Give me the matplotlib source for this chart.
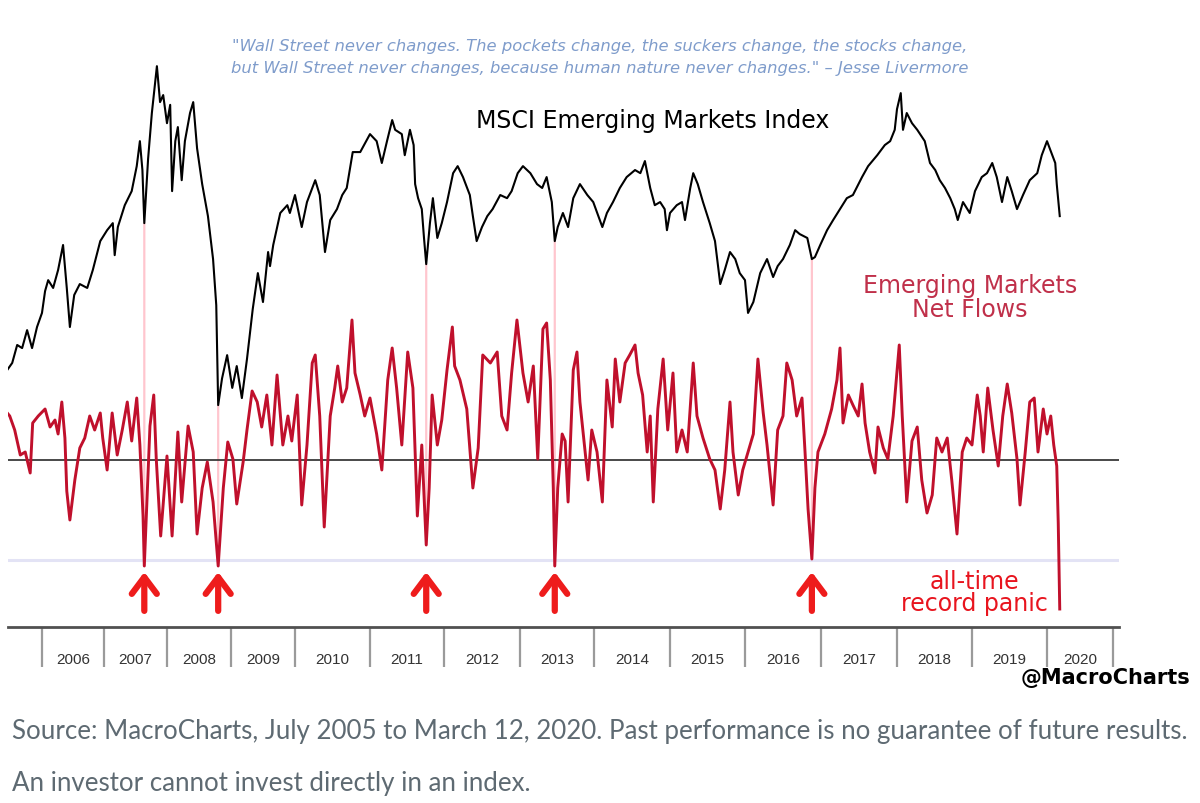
import numpy as np
import matplotlib
matplotlib.use("Agg")
import matplotlib.pyplot as plt
from matplotlib.patches import ConnectionPatch

# ---------------- data ----------------
index_dates = [
    2005.44, 2005.52, 2005.60, 2005.68, 2005.76, 2005.84, 2005.92, 2006.00, 2006.05, 2006.10,
    2006.18, 2006.26, 2006.34, 2006.40, 2006.45, 2006.52, 2006.61, 2006.73, 2006.82, 2006.94,
    2007.05, 2007.14, 2007.17, 2007.22, 2007.33, 2007.44, 2007.52, 2007.57, 2007.61, 2007.64,
    2007.70, 2007.76, 2007.81, 2007.84, 2007.89, 2007.94, 2008.00, 2008.05, 2008.08, 2008.13,
    2008.17, 2008.23, 2008.28, 2008.36, 2008.41, 2008.47, 2008.55, 2008.64, 2008.72, 2008.77,
    2008.80, 2008.86, 2008.94, 2009.02, 2009.09, 2009.17, 2009.25, 2009.34, 2009.42, 2009.50,
    2009.58, 2009.61, 2009.66, 2009.77, 2009.88, 2009.92, 2010.00, 2010.09, 2010.16, 2010.27,
    2010.33, 2010.40, 2010.47, 2010.56, 2010.63, 2010.69, 2010.77, 2010.87, 2011.00, 2011.09,
    2011.16, 2011.23, 2011.30, 2011.34, 2011.43, 2011.47, 2011.54, 2011.59, 2011.61, 2011.65,
    2011.70, 2011.73, 2011.76, 2011.81, 2011.85, 2011.91, 2011.97, 2012.04, 2012.12, 2012.18,
    2012.25, 2012.34, 2012.38, 2012.43, 2012.50, 2012.57, 2012.64, 2012.74, 2012.83, 2012.89,
    2012.97, 2013.04, 2013.14, 2013.23, 2013.30, 2013.36, 2013.43, 2013.47, 2013.51, 2013.58,
    2013.65, 2013.72, 2013.81, 2013.91, 2013.99, 2014.11, 2014.17, 2014.25, 2014.34, 2014.43,
    2014.54, 2014.61, 2014.67, 2014.74, 2014.80, 2014.87, 2014.93, 2014.96, 2015.00, 2015.09,
    2015.16, 2015.20, 2015.27, 2015.31, 2015.37, 2015.44, 2015.53, 2015.60, 2015.64, 2015.67,
    2015.73, 2015.80, 2015.87, 2015.93, 2016.00, 2016.04, 2016.11, 2016.20, 2016.29, 2016.37,
    2016.43, 2016.50, 2016.59, 2016.66, 2016.72, 2016.82, 2016.88, 2016.92, 2016.99, 2017.08,
    2017.16, 2017.25, 2017.34, 2017.42, 2017.54, 2017.62, 2017.74, 2017.84, 2017.91, 2017.97,
    2018.00, 2018.05, 2018.08, 2018.13, 2018.20, 2018.27, 2018.37, 2018.44, 2018.51, 2018.57,
    2018.64, 2018.71, 2018.77, 2018.81, 2018.88, 2018.97, 2019.04, 2019.13, 2019.20, 2019.27,
    2019.33, 2019.40, 2019.47, 2019.53, 2019.60, 2019.68, 2019.77, 2019.87, 2019.93, 2020.00,
    2020.07, 2020.11, 2020.13, 2020.17,
]
index_values = [
    562, 580, 626, 618, 664, 618, 672, 708, 764, 792,
    772, 818, 882, 772, 672, 754, 782, 772, 818, 892,
    920, 938, 856, 928, 984, 1020, 1084, 1148, 1074, 938,
    1102, 1220, 1294, 1340, 1248, 1266, 1194, 1241, 1020, 1148,
    1184, 1048, 1148, 1220, 1248, 1130, 1038, 956, 846, 728,
    472, 540, 600, 516, 572, 490, 590, 718, 810, 736,
    864, 828, 882, 964, 984, 964, 1010, 928, 992, 1048,
    1010, 864, 946, 974, 1010, 1028, 1120, 1120, 1166, 1148,
    1092, 1148, 1202, 1177, 1166, 1112, 1177, 1138, 1038, 1002,
    974, 900, 833, 938, 1002, 900, 938, 992, 1066, 1084,
    1056, 1010, 956, 892, 928, 956, 974, 1010, 1002, 1020,
    1066, 1084, 1066, 1038, 1028, 1056, 992, 892, 928, 964,
    928, 1002, 1038, 1010, 992, 928, 964, 992, 1028, 1056,
    1074, 1066, 1097, 1028, 984, 992, 974, 920, 964, 984,
    992, 946, 1028, 1066, 1038, 992, 938, 892, 828, 782,
    818, 864, 846, 810, 792, 708, 736, 810, 846, 800,
    828, 846, 882, 920, 910, 900, 846, 851, 882, 920,
    946, 974, 1002, 1010, 1056, 1084, 1112, 1138, 1148, 1177,
    1230, 1271, 1177, 1220, 1194, 1177, 1148, 1092, 1074, 1048,
    1028, 1002, 974, 946, 992, 964, 1020, 1056, 1066, 1092,
    1056, 992, 1056, 1020, 974, 1010, 1048, 1066, 1112, 1148,
    1112, 1092, 1038, 956,
]

flow_dates = [
    2005.44, 2005.48, 2005.56, 2005.65, 2005.73, 2005.81, 2005.85, 2005.94, 2006.05, 2006.13,
    2006.21, 2006.26, 2006.32, 2006.37, 2006.40, 2006.45, 2006.53, 2006.61, 2006.69, 2006.77,
    2006.85, 2006.94, 2006.98, 2007.05, 2007.13, 2007.21, 2007.29, 2007.37, 2007.44, 2007.52,
    2007.57, 2007.62, 2007.64, 2007.73, 2007.79, 2007.83, 2007.90, 2008.00, 2008.08, 2008.17,
    2008.23, 2008.33, 2008.41, 2008.47, 2008.55, 2008.63, 2008.72, 2008.80, 2008.88, 2008.95,
    2009.03, 2009.09, 2009.19, 2009.25, 2009.33, 2009.41, 2009.48, 2009.56, 2009.64, 2009.72,
    2009.81, 2009.89, 2009.95, 2010.03, 2010.09, 2010.16, 2010.23, 2010.27, 2010.33, 2010.39,
    2010.47, 2010.53, 2010.57, 2010.63, 2010.69, 2010.76, 2010.80, 2010.87, 2010.93, 2011.00,
    2011.09, 2011.16, 2011.24, 2011.30, 2011.36, 2011.43, 2011.51, 2011.58, 2011.64, 2011.70,
    2011.76, 2011.80, 2011.84, 2011.91, 2011.97, 2012.04, 2012.11, 2012.14, 2012.21, 2012.30,
    2012.38, 2012.45, 2012.51, 2012.61, 2012.70, 2012.76, 2012.83, 2012.89, 2012.96, 2013.04,
    2013.11, 2013.18, 2013.24, 2013.31, 2013.36, 2013.41, 2013.45, 2013.47, 2013.51, 2013.57,
    2013.61, 2013.65, 2013.72, 2013.77, 2013.81, 2013.88, 2013.92, 2013.97, 2014.04, 2014.11,
    2014.17, 2014.24, 2014.28, 2014.34, 2014.41, 2014.47, 2014.54, 2014.58, 2014.64, 2014.70,
    2014.74, 2014.78, 2014.84, 2014.91, 2014.97, 2015.04, 2015.09, 2015.16, 2015.23, 2015.31,
    2015.36, 2015.44, 2015.53, 2015.60, 2015.67, 2015.73, 2015.80, 2015.84, 2015.91, 2015.97,
    2016.04, 2016.11, 2016.17, 2016.24, 2016.29, 2016.37, 2016.43, 2016.50, 2016.55, 2016.62,
    2016.68, 2016.75, 2016.79, 2016.83, 2016.88, 2016.92, 2016.96, 2017.05, 2017.14, 2017.21,
    2017.25, 2017.29, 2017.36, 2017.42, 2017.49, 2017.54, 2017.58, 2017.64, 2017.71, 2017.75,
    2017.82, 2017.88, 2017.95, 2017.99, 2018.03, 2018.07, 2018.13, 2018.20, 2018.27, 2018.33,
    2018.40, 2018.47, 2018.53, 2018.60, 2018.67, 2018.73, 2018.80, 2018.87, 2018.93, 2019.00,
    2019.07, 2019.11, 2019.15, 2019.21, 2019.28, 2019.35, 2019.41, 2019.47, 2019.53, 2019.60,
    2019.64, 2019.71, 2019.77, 2019.83, 2019.88, 2019.95, 2020.00, 2020.05, 2020.09, 2020.13,
    2020.15, 2020.17,
]
flow_values = [
    4.7, 4.4, 3.0, 0.5, 0.8, -1.3, 3.7, 4.4, 5.1, 3.3,
    4.0, 2.6, 5.8, 2.2, -3.1, -6.0, -2.0, 1.2, 2.2, 4.4,
    3.0, 4.7, 2.2, -1.0, 4.7, 0.5, 3.0, 5.8, 1.9, 6.2,
    1.5, -5.6, -10.6, 3.4, 6.5, 0.1, -7.6, 0.4, -7.6, 2.8,
    -4.2, 3.4, 0.8, -7.4, -2.8, -0.2, -4.2, -10.6, -2.8, 1.8,
    0.1, -4.4, -0.2, 3.0, 6.9, 5.8, 3.3, 6.5, 1.5, 8.5,
    1.5, 4.4, 1.9, 6.5, -4.5, 1.5, 9.7, 10.5, 4.4, -6.7,
    4.4, 7.2, 9.4, 5.8, 7.2, 14.0, 8.7, 6.5, 4.4, 6.2,
    2.6, -1.0, 8.0, 11.2, 7.2, 1.5, 10.8, 7.2, -5.6, 1.5,
    -8.5, -2.8, 6.5, 1.5, 4.0, 9.0, 13.3, 9.4, 8.0, 5.1,
    -2.8, 1.2, 10.5, 9.7, 10.8, 4.4, 3.0, 8.7, 14.0, 8.7,
    5.8, 9.4, 0.1, 13.1, 13.7, 8.0, -2.8, -10.6, -2.8, 2.6,
    1.9, -4.2, 9.0, 10.8, 5.8, 0.8, -2.0, 3.0, 0.8, -4.2,
    8.0, 3.3, 10.1, 5.8, 9.7, 10.5, 11.5, 8.7, 6.5, 0.8,
    4.4, -4.2, 5.1, 10.1, 3.0, 8.7, 0.8, 3.0, 0.8, 9.7,
    4.4, 2.2, 0.1, -1.0, -4.9, -1.0, 5.8, 0.8, -3.5, -1.0,
    0.8, 2.6, 10.1, 4.7, 1.5, -4.5, 3.0, 4.4, 9.7, 8.0,
    4.4, 6.2, 0.8, -4.9, -9.9, -2.8, 0.8, 2.6, 5.1, 8.0,
    11.2, 3.7, 6.5, 5.5, 4.4, 7.6, 3.7, 0.8, -1.3, 3.3,
    1.2, 0.1, 4.4, 8.0, 11.5, 4.4, -4.2, 1.9, 3.3, -2.0,
    -5.3, -3.5, 2.2, 0.8, 2.2, -2.0, -7.4, 0.8, 2.2, 1.5,
    6.5, 4.4, 0.8, 7.2, 3.0, -0.6, 4.4, 7.6, 4.7, 0.1,
    -4.5, 0.8, 5.8, 6.2, 0.8, 5.1, 2.6, 4.4, 1.5, -0.6,
    -6.3, -14.9,
]

panic_dates = [2007.64, 2008.80, 2011.76, 2013.47, 2016.88]
panic_index = [938, 472, 833, 892, 846]
panic_flow = [-10.6, -10.6, -8.5, -10.6, -9.9]
panic_threshold = -10.0

year_labels = [str(y) for y in range(2006, 2021)]
tick_years = list(range(2006, 2021)) + [2020.88]

# ---------------- axis layout (the original's uneven year widths) ----------------
year_nodes = np.arange(2005, 2022, dtype=float)
year_span = np.array([62, 62, 63, 64, 64, 75, 74, 76, 74, 76, 75, 76, 76, 75, 75, 75], dtype=float)
span_nodes = np.concatenate([[0.0], np.cumsum(year_span)])


def fwd(x):
    return np.interp(np.asarray(x, dtype=float), year_nodes, span_nodes)


def inv(u):
    return np.interp(np.asarray(u, dtype=float), span_nodes, year_nodes)


W, H = 1200, 804
fig = plt.figure(figsize=(12, 8.04), dpi=100)
fig.patch.set_facecolor("white")

ax = fig.add_axes([8 / W, 1 - 628 / H, (1119 - 8) / W, (628 - 40) / H])
ax.set_xscale("function", functions=(fwd, inv))
ax.set_xlim(2005.452, 2020.96)
ax.set_ylim(-16.7, 42.1)

ax2 = ax.twinx()
ax2.set_ylim(-96.3, 1409.6)

for s in ["top", "left", "right"]:
    ax.spines[s].set_visible(False)
for s in ax2.spines.values():
    s.set_visible(False)
ax.spines["bottom"].set_color("#505050")
ax.spines["bottom"].set_linewidth(2.0)
ax.set_yticks([])
ax2.set_yticks([])

# reference lines
ax.axhline(0, color="#3a3a3a", lw=1.3, zorder=1.5)
ax.axhline(panic_threshold, color="#e3e3f5", lw=2.2, zorder=1)

# series
ax.plot(flow_dates, flow_values, color="#c0102c", lw=2.1, zorder=3)
ax2.plot(index_dates, index_values, color="black", lw=1.5, zorder=3)

# pink connectors at panic lows
for d, vi, vf in zip(panic_dates, panic_index, panic_flow):
    cp = ConnectionPatch(xyA=(d, vi), coordsA=ax2.transData,
                         xyB=(d, vf), coordsB=ax.transData,
                         color="#ffc6ce", lw=1.6, zorder=0.5)
    ax.add_artist(cp)

# red arrows
arrow_tip = -11.2
for d in panic_dates:
    ax.annotate("", xy=(d, arrow_tip), xytext=(0, -28), textcoords="offset points",
                arrowprops=dict(arrowstyle="->,head_length=0.6,head_width=0.45",
                                lw=4.5, color="#ee1c1c", shrinkA=0, shrinkB=0,
                                mutation_scale=20, capstyle="round", joinstyle="round"),
                annotation_clip=False)

# x ticks
ax.set_xticks(tick_years)
ax.set_xticklabels([])
label_pos = [(a + b) / 2 for a, b in zip(tick_years[:-1], tick_years[1:])]
ax.set_xticks(label_pos, minor=True)
ax.set_xticklabels(year_labels, minor=True, fontfamily="Liberation Sans")
ax.tick_params(axis="x", which="major", length=29, width=1.6, color="#9a9a9a", direction="out")
ax.tick_params(axis="x", which="minor", length=0, pad=18, labelsize=11, labelcolor="#333333")

# ---------------- texts ----------------
quote_color = "#7f9ccb"
fig.text(600 / W, 1 - 47 / H,
         "\"Wall Street never changes. The pockets change, the suckers change, the stocks change,",
         ha="center", va="center", color=quote_color, fontsize=11.8, style="italic")
fig.text(600 / W, 1 - 68 / H,
         "but Wall Street never changes, because human nature never changes.\" \u2013 Jesse Livermore",
         ha="center", va="center", color=quote_color, fontsize=11.8, style="italic")

fig.text(653 / W, 1 - 121 / H, "MSCI Emerging Markets Index", ha="center", va="center",
         color="black", fontsize=17)

fig.text(970 / W, 1 - 298 / H, "Emerging Markets\nNet Flows", ha="center", va="center",
         color="#c0304a", fontsize=17, linespacing=0.95)

fig.text(974 / W, 1 - 593 / H, "all-time\nrecord panic", ha="center", va="center",
         color="#e8141e", fontsize=17, linespacing=0.85)

fig.text(1190 / W, 1 - 678 / H, "@MacroCharts", ha="right", va="center",
         color="black", fontsize=15, fontweight="bold")

src_color = "#5e6a72"
fig.text(12 / W, 1 - 731 / H,
         "Source: MacroCharts, July 2005 to March 12, 2020. Past performance is no guarantee of future results.",
         ha="left", va="center", color=src_color, fontsize=18.6, fontfamily="Lato")
fig.text(12 / W, 1 - 784 / H, "An investor cannot invest directly in an index.",
         ha="left", va="center", color=src_color, fontsize=18.6, fontfamily="Lato")

fig.savefig("out.png", dpi=100, facecolor="white")
